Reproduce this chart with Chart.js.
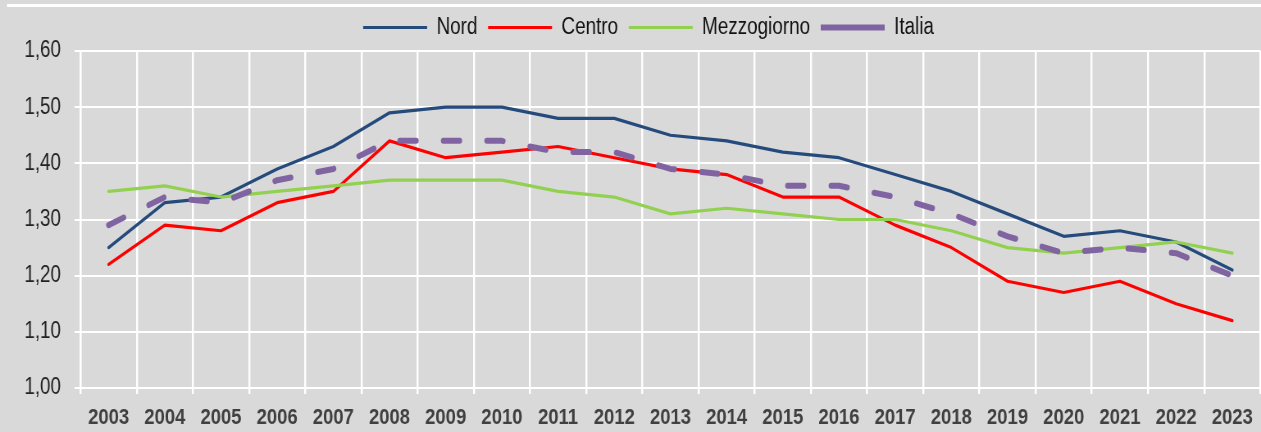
<!DOCTYPE html>
<html>
<head>
<meta charset="utf-8">
<script src="https://cdn.jsdelivr.net/npm/chart.js@4.4.1/dist/chart.umd.min.js"></script>
<style>
  html, body { margin: 0; padding: 0; background: #d9d9d9; }
  #wrap { position: relative; width: 1261px; height: 432px; overflow: hidden; background: #d9d9d9; }
  #topline { position: absolute; left: 7px; right: 0; top: 4px; height: 3px; background: #ffffff; }
  #c { position: absolute; left: 0; top: 0; width: 1261px; height: 432px; }
</style>
</head>
<body>
<div id="wrap">
  <div id="topline"></div>
  <!-- drawn 22% wider and shown at 1261px, so Liberation Sans looks like Arial Narrow -->
  <canvas id="c" width="1538" height="432" style="width:1261px;height:432px"></canvas>
</div>
<script>
const years = ['2003','2004','2005','2006','2007','2008','2009','2010','2011','2012','2013','2014','2015','2016','2017','2018','2019','2020','2021','2022','2023'];
const nord        = [1.25,1.33,1.34,1.39,1.43,1.49,1.50,1.50,1.48,1.48,1.45,1.44,1.42,1.41,1.38,1.35,1.31,1.27,1.28,1.26,1.21];
const centro      = [1.22,1.29,1.28,1.33,1.35,1.44,1.41,1.42,1.43,1.41,1.39,1.38,1.34,1.34,1.29,1.25,1.19,1.17,1.19,1.15,1.12];
const mezzogiorno = [1.35,1.36,1.34,1.35,1.36,1.37,1.37,1.37,1.35,1.34,1.31,1.32,1.31,1.30,1.30,1.28,1.25,1.24,1.25,1.26,1.24];
const italia      = [1.29,1.34,1.33,1.37,1.39,1.44,1.44,1.44,1.42,1.42,1.39,1.38,1.36,1.36,1.34,1.31,1.27,1.24,1.25,1.24,1.20];
const yTicks = [1.00,1.10,1.20,1.30,1.40,1.50,1.60];

const FONT = "'Liberation Sans', Arial, sans-serif";

const legendPlace = {
  id: 'legendPlace',
  beforeLayout(chart) {
    const lg = chart.legend;
    if (lg && !lg._padWrapped) {
      const f = lg.fit.bind(lg);
      lg.fit = function () { f(); this.height += 2; };
      lg._padWrapped = true;
    }
  },
  afterLayout(chart) {
    const lg = chart.legend;
    if (lg) { lg.left += 22; lg.right += 22; }
  }
};

new Chart(document.getElementById('c'), {
  type: 'line',
  data: {
    labels: years,
    datasets: [
      { label: 'Nord', data: nord, borderColor: '#254a7c', backgroundColor: '#254a7c', borderWidth: 3.2, order: 4 },
      { label: 'Centro', data: centro, borderColor: '#ff0000', backgroundColor: '#ff0000', borderWidth: 3.2, order: 3 },
      { label: 'Mezzogiorno', data: mezzogiorno, borderColor: '#92d050', backgroundColor: '#92d050', borderWidth: 3.2, order: 2 },
      { label: 'Italia', data: italia, borderColor: '#8064a2', backgroundColor: '#8064a2', borderWidth: 6, borderDash: [20, 33], order: 1 }
    ]
  },
  options: {
    responsive: false,
    animation: false,
    devicePixelRatio: 1,
    layout: { padding: { left: 0, right: 0, top: 3, bottom: 0 } },
    elements: {
      point: { radius: 0, hoverRadius: 0, pointStyle: 'line' },
      line: { tension: 0, borderCapStyle: 'round', borderJoinStyle: 'round', fill: false }
    },
    plugins: {
      tooltip: { enabled: false },
      legend: {
        position: 'top',
        align: 'center',
        labels: {
          usePointStyle: true,
          pointStyle: 'line',
          pointStyleWidth: 78,
          padding: 13,
          color: '#111111',
          font: { family: FONT, size: 23 },
          sort: (a, b) => a.datasetIndex - b.datasetIndex
        }
      }
    },
    scales: {
      x: {
        offset: true,
        grid: { display: true, offset: true, color: '#ffffff', lineWidth: 2.4, tickLength: 6, drawTicks: true },
        border: { display: true, color: '#ffffff', width: 2 },
        ticks: { color: '#404040', font: { family: FONT, size: 22.5, weight: 'bold' }, padding: 10, maxRotation: 0, autoSkip: false },
        afterFit: (s) => { s.height = 44; }
      },
      y: {
        min: 1.0,
        max: 1.6,
        afterBuildTicks: (s) => { s.ticks = yTicks.map(v => ({ value: v })); },
        grid: { color: '#ffffff', lineWidth: 2, tickLength: 7.3, drawTicks: true },
        border: { display: true, color: '#ffffff', width: 2.4 },
        ticks: {
          color: '#222222',
          font: { family: FONT, size: 23 },
          padding: 16.5,
          callback: (v) => Number(v).toFixed(2).replace('.', ',')
        },
        afterFit: (s) => { s.width = 98.2; }
      }
    }
  },
  plugins: [legendPlace]
});
</script>
</body>
</html>
